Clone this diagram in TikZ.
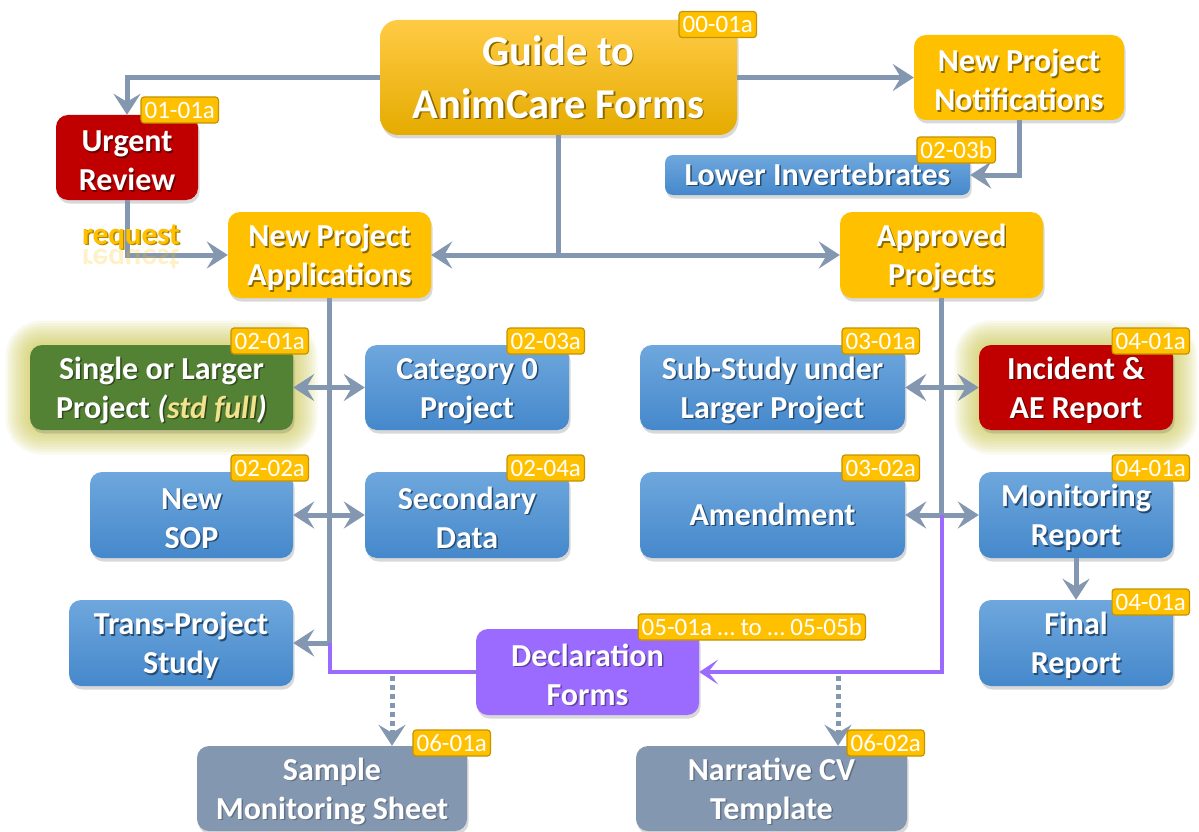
\documentclass[tikz,border=0pt]{standalone}
\usepackage{fontspec}
\setmainfont{Carlito}
\usetikzlibrary{arrows.meta,shadows,backgrounds,calc}

\definecolor{cOrange}{HTML}{FFC000}
\definecolor{cOrangeTop}{HTML}{FFCB45}
\definecolor{cOrangeBot}{HTML}{E5AB00}
\definecolor{cBlueTop}{HTML}{6EA7DD}
\definecolor{cBlueBot}{HTML}{4588CB}
\definecolor{cRed}{HTML}{C00000}
\definecolor{cGreen}{HTML}{548235}
\definecolor{cGray}{HTML}{8497B0}
\definecolor{cPurple}{HTML}{9B6BFF}
\definecolor{cLine}{HTML}{8497B0}
\definecolor{cTagBorder}{HTML}{C49400}
\definecolor{cHalo}{HTML}{CDC850}
\definecolor{cStd}{HTML}{F2E28C}
\colorlet{tshc}{black!50}

\newcommand\tsh[1]{\makebox[0pt][l]{\kern1.5pt\raisebox{-1.5pt}{\textcolor{tshc}{#1}}}#1}
\newcommand\tshb[2]{\makebox[0pt][l]{\kern1.5pt\raisebox{-1.5pt}{\textcolor{tshc}{#1}}}#2}
\newcommand\tstrut{\rule{0pt}{29pt}}

\tikzset{
  nbox/.style={rounded corners=12pt, text=white, align=center, inner sep=0pt,
    font=\bfseries\fontsize{32}{39}\selectfont,
    drop shadow={shadow xshift=1.5pt, shadow yshift=-3.5pt, opacity=0.3}},
  mainbox/.style={nbox, rounded corners=18pt, top color=cOrangeTop, middle color=cOrange, bottom color=cOrangeBot,
    font=\bfseries\fontsize{42.5}{53}\selectfont,
    execute at begin node={\colorlet{tshc}{cOrange!55!black}}},
  orbox/.style={nbox, fill=cOrange, execute at begin node={\colorlet{tshc}{cOrange!55!black}}},
  blbox/.style={nbox, top color=cBlueTop, bottom color=cBlueBot, execute at begin node={\colorlet{tshc}{cBlueBot!55!black}}},
  rdbox/.style={nbox, fill=cRed, execute at begin node={\colorlet{tshc}{cRed!55!black}}},
  grbox/.style={nbox, fill=cGreen, execute at begin node={\colorlet{tshc}{cGreen!55!black}}},
  pubox/.style={nbox, fill=cPurple, execute at begin node={\colorlet{tshc}{cPurple!60!black}}},
  gybox/.style={nbox, fill=cGray, execute at begin node={\colorlet{tshc}{cGray!75!black}}},
  tagbox/.style={fill=cOrange, draw=cTagBorder, line width=1.2pt, rounded corners=3pt, text=white,
    font=\fontsize{25}{26}\selectfont, inner xsep=3.5pt, inner ysep=0pt, minimum height=26pt, anchor=east},
  conn/.style={draw=cLine, line width=5pt},
  purp/.style={draw=cPurple, line width=4pt},
  dotline/.style={draw=cLine, line width=5pt, dash pattern=on 5pt off 4pt},
  arr/.style={-{Stealth[length=21pt,width=27pt,inset=8pt]}},
  darr/.style={{Stealth[length=21pt,width=27pt,inset=8pt]}-{Stealth[length=21pt,width=27pt,inset=8pt]}},
  parr/.style={-{Stealth[length=19pt,width=25pt,inset=10pt]}},
}

\begin{document}
\begin{tikzpicture}[x=1pt,y=-1pt]
\useasboundingbox (0,0) rectangle (1199,832);

% boxes
\node[mainbox, minimum width=357pt, minimum height=115pt] (main) at (558.5,77.5) {\tsh{Guide to}\\\tsh{AnimCare Forms}};
\node[orbox, minimum width=210pt, minimum height=85pt] (npn) at (1019,77.5) {\tstrut\tsh{New Project}\\\tsh{Notifications}};
\node[rdbox, minimum width=142pt, minimum height=85pt] (urgent) at (127,157.5) {\tstrut\tsh{Urgent}\\\tsh{Review}};
\node[blbox, rounded corners=8pt, minimum width=305pt, minimum height=40pt] (lower) at (817.5,175) {\tsh{Lower Invertebrates}};
\node[orbox, minimum width=203pt, minimum height=86pt] (npa) at (329.5,255) {\tstrut\tsh{New Project}\\\tsh{Applications}};
\node[orbox, minimum width=203pt, minimum height=86pt] (appr) at (941.5,255) {\tstrut\tsh{Approved}\\\tsh{Projects}};
\node[grbox, minimum width=263pt, minimum height=85pt] (single) at (161.5,387.5) {\tstrut\tsh{Single or Larger}\\\tshb{Project \textit{(std full)}}{Project \textit{(\textcolor{cStd}{std full})}}};
\node[blbox, minimum width=204pt, minimum height=85pt] (cat0) at (467,387.5) {\tstrut\tsh{Category 0}\\\tsh{Project}};
\node[blbox, minimum width=265pt, minimum height=85pt] (sub) at (772.5,387.5) {\tstrut\tsh{Sub-Study under}\\\tsh{Larger Project}};
\node[rdbox, minimum width=194pt, minimum height=85pt] (inc) at (1076,387.5) {\tstrut\tsh{Incident \&}\\\tsh{AE Report}};
\node[blbox, minimum width=203pt, minimum height=86pt] (sop) at (191.5,515) {\tstrut\tsh{New}\\\tsh{SOP}};
\node[blbox, minimum width=204pt, minimum height=86pt] (sec) at (467,515) {\tstrut\tsh{Secondary}\\\tsh{Data}};
\node[blbox, minimum width=265pt, minimum height=86pt] (amend) at (772.5,515) {\tsh{Amendment}};
\node[blbox, minimum width=194pt, minimum height=86pt] (mon) at (1076,515) {\tstrut\tsh{Monitoring}\\\tsh{Report}};
\node[blbox, minimum width=224pt, minimum height=86pt] (trans) at (181,643) {\tstrut\tsh{Trans-Project}\\\tsh{Study}};
\node[blbox, minimum width=194pt, minimum height=86pt] (final) at (1076,643) {\tstrut\tsh{Final}\\\tsh{Report}};
\node[pubox, minimum width=223pt, minimum height=86pt] (decl) at (587.5,672) {\tstrut\tsh{Declaration}\\\tsh{Forms}};
\node[gybox, minimum width=270pt, minimum height=85pt] (sample) at (332,788.5) {\tstrut\tsh{Sample}\\\tsh{Monitoring Sheet}};
\node[gybox, minimum width=271pt, minimum height=85pt] (narr) at (771.5,788.5) {\tstrut\tsh{Narrative CV}\\\tsh{Template}};

% white page and halos
\begin{scope}[on background layer]
\fill[white] (0,0) rectangle (1199,832);
\foreach \n in {single,inc}{
  \foreach \k in {1,...,9}{
    \pgfmathsetmacro\rr{12+2.7*\k}
    \fill[cHalo, opacity=0.1, rounded corners=\rr pt]
      ([xshift=-\k*2.7pt, yshift=-\k*2.7pt]\n.south west) rectangle ([xshift=\k*2.7pt, yshift=\k*2.7pt]\n.north east);
  }}
\end{scope}

% connectors
\draw[conn, arr] (main.west) -| (urgent.north);
\draw[conn, arr] (main.east) -- (npn.west);
\draw[conn, arr] (npn.south) |- (lower.east);
\draw[conn, arr] (main.south) |- (npa.east);
\draw[conn, arr] (main.south) |- (appr.west);
\draw[conn, arr] (urgent.south) |- (npa.west);
\draw[conn, darr] (single.east) -- (cat0.west);
\draw[conn, darr] (sop.east) -- (sec.west);
\draw[conn, darr] (sub.east) -- (inc.west);
\draw[conn, darr] (amend.east) -- (mon.west);
\draw[conn, arr] (npa.south) |- (trans.east);
\draw[conn] (appr.south) -- (appr.south |- amend.east);
\draw[purp] (npa.south |- trans.east) |- (decl.west);
\draw[purp, parr] (appr.south |- amend.east) |- (decl.east);
\draw[conn, arr] (mon.south) -- (final.north);
\coordinate (d1) at (392,676);
\coordinate (d2) at (838,676);
\draw[dotline, arr] (d1) -- (d1 |- sample.north);
\draw[dotline, arr] (d2) -- (d2 |- narr.north);

% request label with reflection
\node[font=\bfseries\fontsize{31}{36}\selectfont, text=cOrange!70!black, anchor=base, inner sep=0pt] (reqsh) at (132.5,245.5) {request};
\node[font=\bfseries\fontsize{31}{36}\selectfont, text=cOrange, anchor=base, inner sep=0pt] (req) at (131,244) {request};
\node[font=\bfseries\fontsize{31}{36}\selectfont, text=cOrange, anchor=base, inner sep=0pt, yscale=-1, opacity=0.22] (reqr) at (131,249) {request};

% tags
\node[tagbox] (t00) at (757,24.5) {00-01a};
\node[tagbox] (t01) at (219,110) {01-01a};
\node[tagbox] (t0203b) at (996,150) {02-03b};
\node[tagbox] (t0201) at (309,341) {02-01a};
\node[tagbox] (t0203a) at (585,341) {02-03a};
\node[tagbox] (t0301) at (920,341) {03-01a};
\node[tagbox] (t0401a) at (1190,341) {04-01a};
\node[tagbox] (t0202) at (309,468) {02-02a};
\node[tagbox] (t0204) at (585,468) {02-04a};
\node[tagbox] (t0302) at (920,468) {03-02a};
\node[tagbox] (t0401b) at (1190,468) {04-01a};
\node[tagbox] (t0401c) at (1190,602) {04-01a};
\node[tagbox] (t05) at (866,627) {05-01a … to … 05-05b};
\node[tagbox] (t0601) at (491,743) {06-01a};
\node[tagbox] (t0602) at (925,743) {06-02a};
\end{tikzpicture}
\end{document}
